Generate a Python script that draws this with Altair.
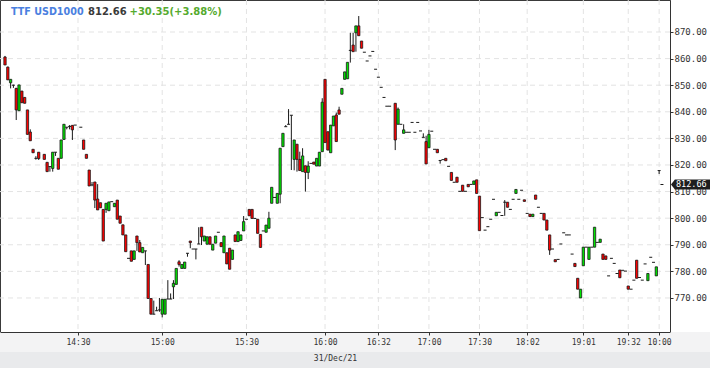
import altair as alt
import pandas as pd
import numpy as np

# ---- data (minute slots, prices) ----
slots = [0, 1, 2, 3, 4, 5, 6, 7, 8, 9, 10, 11, 12, 14, 15, 16, 17, 18, 19, 20,
         21, 22, 23, 24, 25, 27, 28, 29, 30, 31, 32, 33, 34, 35, 36, 37, 38, 39, 40, 41,
         42, 43, 44, 45, 46, 47, 48, 49, 50, 51, 52, 53, 54, 55, 56, 57, 58, 59, 60, 61,
         62, 63, 64, 65, 66, 67, 68, 69, 70, 71, 72, 73, 74, 75, 76, 77, 78, 79, 80, 81,
         82, 83, 84, 85, 86, 87, 88, 89, 90, 91, 92, 93, 94, 95, 96, 97, 98, 99, 100, 101,
         102, 103, 104, 105, 106, 107, 108, 109, 110, 111, 112, 113, 114, 115, 116, 117, 118, 119, 120, 121,
         122, 123, 124, 125, 126, 127, 128, 129, 130, 131, 132, 133, 134, 135, 136, 137, 139, 140, 141, 142,
         143, 144, 145, 146, 147, 148, 149, 150, 151, 152, 153, 154, 155, 156, 157, 158, 159, 160, 161, 162,
         163, 164, 165, 166, 167, 168, 169, 170, 171, 172, 173, 174, 175, 176, 177, 178, 179, 180, 181, 182,
         183, 184, 185, 186, 187, 188, 189, 190, 191, 192, 193, 194, 195, 196, 197, 198, 199, 200, 201, 202,
         203, 204, 205, 206, 207, 208, 209, 210, 211, 212, 213, 214, 215, 216, 217, 218, 219, 220, 221, 222,
         223, 224, 225, 226, 227, 228, 229, 230, 231, 232, 233, 234]

opens = [860.6, 856.8, 850.9, 850.0, 848.8, 840.4, 847.8, 845.4, 840.7, 832.4, 825.9, 822.5, 824.8, 824.0, 821.0, 819.4, 818.7, 824.8, 822.5, 822.5,
         829.6, 834.2, 834.5, 834.9, 835.0, 834.2, 829.4, 824.0, 818.1, 812.5, 813.6, 807.2, 805.8, 803.3, 803.3, 802.8, 806.2, 804.3, 806.8, 800.8,
         797.5, 793.7, 784.9, 787.7, 784.5, 793.3, 790.8, 787.0, 787.7, 782.6, 769.8, 763.9, 765.2, 765.5, 763.9, 763.9, 769.6, 769.6, 774.2, 775.1,
         783.6, 781.1, 781.1, 786.8, 791.4, 788.4, 788.4, 790.3, 796.6, 791.4, 790.2, 793.0, 788.0, 790.6, 794.7, 790.8, 787.0, 787.0, 788.7, 784.5,
         793.7, 791.2, 791.6, 795.2, 799.6, 803.3, 803.3, 799.9, 799.6, 793.9, 795.2, 794.7, 796.2, 805.6, 807.8, 805.6, 809.0, 826.9, 834.4, 835.3,
         838.7, 822.1, 827.8, 822.1, 817.5, 819.7, 817.2, 820.6, 821.1, 819.6, 819.6, 825.0, 852.2, 832.5, 824.6, 834.7, 838.8, 840.7, 846.6, 852.2,
         852.4, 863.1, 865.1, 869.7, 872.3, 866.6, 862.4, 859.1, 861.0, 862.7, 856.0, 853.0, 849.2, 845.4, 842.1, 842.1, 843.2, 835.3, 835.3, 831.9,
         832.3, 832.3, 836.0, 832.3, 836.0, 832.8, 830.4, 828.8, 826.5, 832.7, 825.9, 825.9, 821.7, 822.0, 822.5, 819.5, 817.2, 813.5, 815.4, 810.1,
         812.4, 810.1, 812.7, 812.7, 812.7, 814.4, 808.3, 800.2, 795.5, 796.8, 799.6, 807.1, 800.9, 802.2, 801.0, 806.0, 806.0, 803.3, 807.1, 809.3,
         807.1, 810.5, 806.9, 801.8, 801.5, 800.6, 808.7, 804.1, 801.8, 801.8, 799.3, 793.7, 788.4, 784.4, 784.5, 790.3, 794.5, 793.7, 793.7, 786.5,
         783.0, 777.4, 770.0, 782.1, 789.1, 784.5, 789.1, 789.1, 790.9, 790.9, 786.5, 785.8, 778.3, 784.9, 783.0, 779.2, 780.5, 780.4, 780.1, 774.5,
         773.3, 776.7, 784.2, 777.7, 776.7, 782.8, 776.5, 785.3, 783.4, 778.3, 817.9, 812.66]

closes = [857.6, 852.0, 852.2, 850.0, 840.7, 850.1, 843.4, 843.2, 831.5, 829.1, 824.6, 822.5, 822.4, 822.1, 817.5, 819.4, 824.8, 824.8, 818.4, 829.4,
          835.3, 834.2, 834.5, 833.2, 835.0, 834.2, 825.9, 822.5, 812.1, 812.5, 806.8, 803.1, 803.9, 791.4, 805.6, 806.1, 806.2, 805.6, 799.6, 798.1,
          793.7, 787.4, 784.9, 783.8, 787.7, 790.8, 787.3, 789.0, 787.7, 769.8, 763.9, 763.9, 765.2, 765.5, 769.5, 769.5, 769.6, 769.6, 775.5, 781.1,
          782.6, 782.6, 783.5, 786.8, 790.8, 788.4, 788.4, 790.3, 793.0, 793.3, 793.0, 790.2, 790.2, 793.3, 794.7, 789.3, 793.3, 782.8, 780.8, 788.0,
          791.2, 794.9, 793.7, 798.7, 799.6, 800.9, 799.9, 799.9, 794.3, 789.0, 795.2, 797.4, 800.0, 811.6, 807.8, 809.3, 826.3, 831.9, 834.4, 835.3,
          838.7, 829.4, 822.1, 817.9, 823.4, 817.2, 819.6, 820.6, 820.3, 822.5, 824.8, 843.6, 828.4, 825.6, 835.0, 838.4, 828.8, 839.1, 848.8, 855.0,
          858.6, 863.1, 862.6, 872.3, 868.6, 863.9, 862.4, 859.1, 861.0, 862.7, 856.0, 853.0, 849.2, 845.4, 842.1, 842.1, 829.4, 841.0, 835.3, 833.2,
          832.3, 832.3, 836.0, 832.3, 836.0, 832.8, 830.4, 820.4, 831.5, 832.7, 825.9, 824.6, 821.7, 822.0, 821.6, 819.5, 814.2, 813.5, 813.5, 810.1,
          810.1, 810.1, 811.8, 812.7, 814.0, 809.3, 795.3, 800.2, 795.5, 796.8, 799.6, 807.1, 802.2, 802.2, 801.0, 806.0, 804.1, 803.3, 807.1, 810.8,
          807.1, 810.5, 806.3, 801.8, 800.6, 801.5, 807.1, 804.1, 801.8, 799.3, 795.5, 788.0, 788.4, 783.6, 784.5, 790.3, 794.5, 793.7, 793.7, 786.5,
          781.8, 773.3, 773.3, 789.1, 789.1, 789.1, 789.1, 796.6, 790.9, 792.1, 784.5, 784.5, 778.3, 784.9, 783.0, 779.2, 777.6, 780.4, 780.1, 773.3,
          773.3, 776.7, 777.4, 777.7, 776.7, 782.8, 779.2, 785.3, 783.4, 781.7, 817.9, 812.66]

# wick extremes where a wick is visible (None = no wick beyond the body)
wick_high = {0: 861.0, 1: 857.0, 3: 850.2, 4: 849.0, 9: 833.4, 11: 823.3, 23: 835.0, 31: 813.6,
             33: 812.8, 48: 791.8, 53: 769.0, 54: 766.7, 55: 770.0, 58: 776.7, 59: 771.7, 60: 776.7,
             62: 784.2, 69: 796.6, 85: 800.8, 94: 802.4, 100: 835.0, 101: 841.0, 105: 825.0,
             106: 826.3, 108: 821.4, 113: 845.1, 118: 839.7, 119: 841.9, 123: 869.7, 124: 869.7,
             126: 876.0, 140: 841.6, 142: 835.3, 149: 831.9, 150: 831.0, 151: 833.2, 178: 806.8}
wick_low = {2: 848.8, 3: 849.0, 4: 836.9, 11: 822.0, 12: 821.9, 16: 817.5, 17: 817.5, 18: 823.4,
            22: 833.4, 23: 833.4, 24: 829.4, 31: 812.0, 32: 803.8, 36: 802.0, 47: 787.7, 50: 782.4,
            55: 764.8, 56: 762.7, 60: 769.6, 62: 781.8, 65: 785.5, 66: 788.7, 68: 784.5, 70: 789.9,
            98: 805.6, 102: 818.1, 103: 818.0, 104: 817.5, 107: 810.0, 108: 814.7, 123: 858.5,
            125: 862.6, 139: 825.6, 155: 820.5, 178: 800.9, 194: 786.2, 233: 816.6}

tick_slots = [26, 56, 86, 114, 133, 151, 169, 186, 206, 222, 233]
tick_labels = ["14:30", "15:00", "15:30", "16:00", "16:32", "17:00",
               "17:30", "18:02", "19:01", "19:32", "10:00"]
price_ticks = [770, 780, 790, 800, 810, 820, 830, 840, 850, 860, 870]
date_label = "31/Dec/21"
title_name = "TTF USD1000"
title_price = "812.66"
title_change = "+30.35(+3.88%)"
last_price = 812.66

# ---- table ----
df = pd.DataFrame({"slot": slots, "open": opens, "close": closes})
body_hi = df[["open", "close"]].max(axis=1)
body_lo = df[["open", "close"]].min(axis=1)
df["high"] = [max(wick_high.get(s, h), h) for s, h in zip(df["slot"], body_hi)]
df["low"] = [min(wick_low.get(s, l), l) for s, l in zip(df["slot"], body_lo)]
df["dir"] = np.where(df["close"] > df["open"], "up",
                     np.where(df["close"] < df["open"], "down", "flat"))

xs = alt.Scale(domain=[0, 235.09], nice=False, zero=False)
ys = alt.Scale(domain=[757.2, 882.03], nice=False, zero=False)

label_expr = "''"
for s, l in zip(reversed(tick_slots), reversed(tick_labels)):
    label_expr = f"datum.value == {s} ? '{l}' : ({label_expr})"

x_axis = alt.Axis(values=tick_slots, labelExpr=label_expr, grid=False,
                  tickSize=3, tickColor="#333", domainColor="#333", domainWidth=1,
                  labelFont="DejaVu Sans Mono", labelFontSize=8, labelColor="#333",
                  labelPadding=3, labelFlush=False, labelOverlap=False,
                  title=date_label, titleFont="DejaVu Sans Mono", titleFontSize=8,
                  titleFontWeight="normal", titleColor="#333", titlePadding=8, zindex=1)
y_axis = alt.Axis(orient="right", values=price_ticks, format=".2f", grid=False,
                  tickSize=3, tickColor="#333", domainColor="#333",
                  labelFont="DejaVu Sans Mono", labelFontSize=9, labelColor="#333",
                  labelPadding=1, title=None, zindex=0)

X = alt.X("slot:Q", scale=xs, axis=x_axis)
one = pd.DataFrame({"a": [0]})

band1 = alt.Chart(one).mark_rect(color="#f3f3f4").encode(
    x=alt.value(0), x2=alt.value(710), y=alt.value(332), y2=alt.value(352))
band2 = alt.Chart(one).mark_rect(color="#e9eaec").encode(
    x=alt.value(0), x2=alt.value(710), y=alt.value(352), y2=alt.value(368))

vgrid = alt.Chart(pd.DataFrame({"slot": tick_slots})).mark_rule(
    color="#e3e3e3", strokeDash=[5, 4], strokeWidth=1).encode(x=X)
hgrid = alt.Chart(pd.DataFrame({"p": price_ticks})).mark_rule(
    color="#e3e3e3", strokeDash=[5, 4], strokeWidth=1).encode(
    y=alt.Y("p:Q", scale=ys, axis=y_axis))

base = alt.Chart(df)
wicks = base.mark_rule(color="#1a1a1a", strokeWidth=1).encode(
    x=X, y=alt.Y("low:Q", scale=ys, axis=y_axis), y2="high:Q")
bodies = base.transform_filter("datum.dir != 'flat'").mark_bar(
    width=2.3, stroke="#1a1a1a", strokeWidth=0.8).encode(
    x=X, y=alt.Y("open:Q", scale=ys, axis=y_axis), y2="close:Q",
    color=alt.Color("dir:N", scale=alt.Scale(domain=["up", "down"],
                                              range=["#00e400", "#ff0000"]), legend=None))
dojis = base.transform_filter("datum.dir == 'flat'").mark_tick(
    orient="horizontal", size=3, thickness=1, color="#1a1a1a", opacity=1).encode(
    x=X, y=alt.Y("open:Q", scale=ys, axis=y_axis))

t1 = alt.Chart(pd.DataFrame({"t": [title_name]})).mark_text(
    align="left", baseline="alphabetic", font="DejaVu Sans", fontSize=9.6,
    fontWeight="bold", color="#4a80e0").encode(x=alt.value(11), y=alt.value(15), text="t:N")
t2 = alt.Chart(pd.DataFrame({"t": [title_price]})).mark_text(
    align="left", baseline="alphabetic", font="DejaVu Sans", fontSize=10,
    fontWeight="bold", color="#3a3a3a").encode(x=alt.value(88), y=alt.value(15), text="t:N")
t3 = alt.Chart(pd.DataFrame({"t": [title_change]})).mark_text(
    align="left", baseline="alphabetic", font="DejaVu Sans", fontSize=10,
    fontWeight="bold", color="#55aa2e").encode(x=alt.value(129.5), y=alt.value(15), text="t:N")

lp = pd.DataFrame({"price": [last_price], "lbl": [f"{last_price:.2f}"]})
marker = alt.Chart(lp).mark_point(
    shape="M -1 0 L -0.8 -0.26 L 1 -0.26 L 1 0.26 L -0.8 0.26 Z",
    filled=True, color="#1e1e1e", opacity=1, size=1521, strokeWidth=0).encode(
    x=alt.value(690.5), y=alt.Y("price:Q", scale=ys, axis=y_axis))
marker_txt = alt.Chart(lp).mark_text(
    align="left", baseline="middle", font="DejaVu Sans Mono", fontSize=8.5,
    color="white").encode(x=alt.value(676), y=alt.Y("price:Q", scale=ys, axis=y_axis),
                          text="lbl:N")

chart = alt.layer(band1, band2, vgrid, hgrid, wicks, bodies, dojis, t1, t2, t3,
                  marker, marker_txt).properties(
    width=670, height=332,
    autosize=alt.AutoSizeParams(type="none"),
    padding={"left": 0, "top": 0, "right": 40, "bottom": 36},
    background="white",
).configure_view(stroke="#3a3a3a", strokeWidth=1, fill="white")

chart.save("out.html", embed_options={"renderer": "svg", "actions": False})
